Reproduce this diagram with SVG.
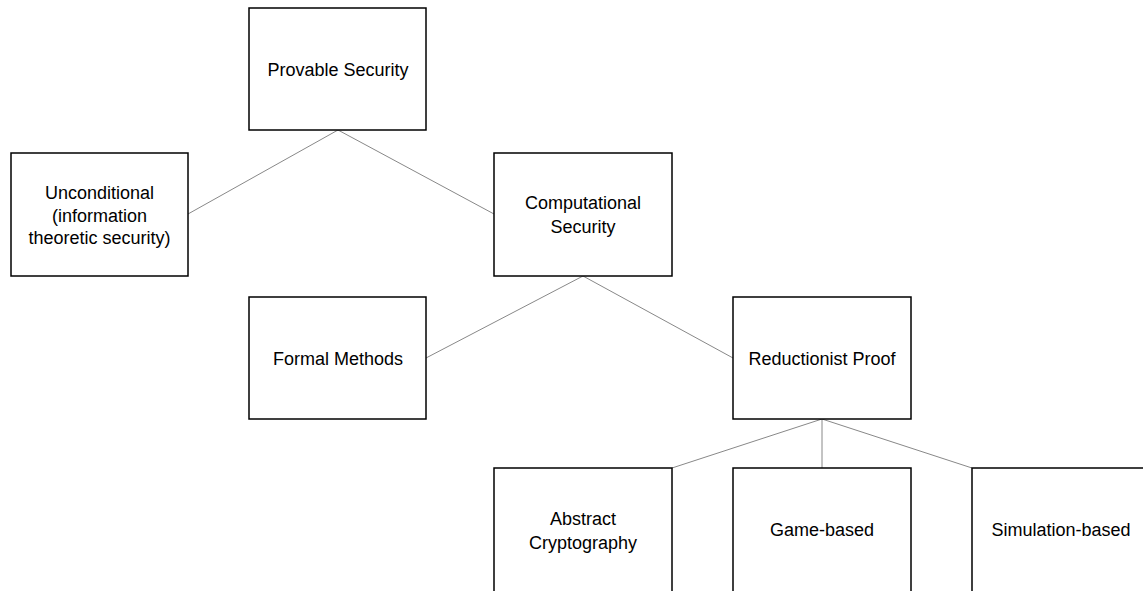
<svg xmlns="http://www.w3.org/2000/svg" width="1143" height="591" viewBox="0 0 1143 591">
<style>
.box{fill:#fff;stroke:#000;stroke-width:1.5}
.t{font-family:"Liberation Sans",Arial,sans-serif;font-size:18px;fill:#000;text-anchor:middle;dominant-baseline:central}
.c{stroke:#888;stroke-width:1;fill:none}
</style>
<rect width="1143" height="591" fill="#fff"/>
<g id="connectors">
<line class="c" x1="338" y1="130" x2="188" y2="214"/>
<line class="c" x1="338" y1="130" x2="494" y2="214"/>
<line class="c" x1="583" y1="276" x2="426" y2="358"/>
<line class="c" x1="583" y1="276" x2="733" y2="358"/>
<line class="c" x1="822" y1="419" x2="672" y2="468"/>
<line class="c" x1="822" y1="419" x2="822" y2="468"/>
<line class="c" x1="822" y1="419" x2="972" y2="468"/>
</g>
<g id="provable"><rect class="box" x="249" y="8" width="177" height="122"/><text class="t" x="338" y="70">Provable Security</text></g>
<g id="unconditional"><rect class="box" x="11" y="153" width="177" height="123"/><text class="t" x="99.5" y="193">Unconditional</text><text class="t" x="99.5" y="216">(information</text><text class="t" x="99.5" y="238">theoretic security)</text></g>
<g id="computational"><rect class="box" x="494" y="153" width="178" height="123"/><text class="t" x="583" y="203">Computational</text><text class="t" x="583" y="227">Security</text></g>
<g id="formal"><rect class="box" x="249" y="297" width="177" height="122"/><text class="t" x="338" y="359">Formal Methods</text></g>
<g id="reductionist"><rect class="box" x="733" y="297" width="178" height="122"/><text class="t" x="822" y="359">Reductionist Proof</text></g>
<g id="abstract"><rect class="box" x="494" y="468" width="178" height="130"/><text class="t" x="583" y="519">Abstract</text><text class="t" x="583" y="543">Cryptography</text></g>
<g id="game"><rect class="box" x="733" y="468" width="178" height="130"/><text class="t" x="822" y="530">Game-based</text></g>
<g id="simulation"><rect class="box" x="972" y="468" width="178" height="130"/><text class="t" x="1061" y="530">Simulation-based</text></g>
</svg>
